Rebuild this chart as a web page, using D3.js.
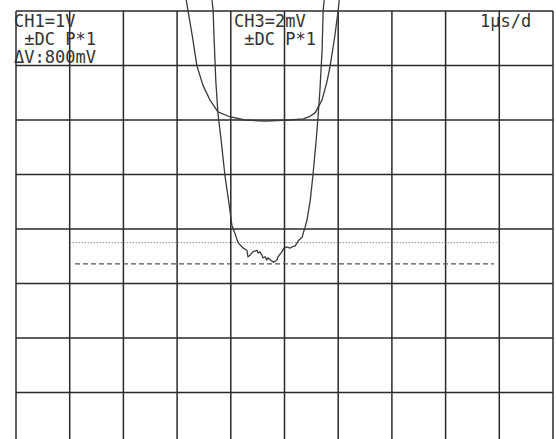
<!DOCTYPE html>
<html>
<head>
<meta charset="utf-8">
<script src="https://cdn.jsdelivr.net/npm/d3@7"></script>
<style>
  body { margin: 0; background: #fff; }
  svg { display: block; }
  .label { font-family: "DejaVu Sans Mono", monospace; font-size: 17px; fill: #333; }
</style>
</head>
<body>
<div id="scope"></div>
<script>
// grid divisions (time: 1 us/div, vertical in divisions)
const xDivs = [-5, -4, -3, -2, -1, 0, 1, 2, 3, 4, 5];
const yDivs = [-4, -3, -2, -1, 0, 1, 2, 3, 4];

// CH1 trace, [time in div, level in div]
const ch1Trace = [
  [-1.83, 4.20], [-1.80, 4.02], [-1.72, 3.56], [-1.63, 2.99], [-1.52, 2.64],
  [-1.39, 2.37], [-1.24, 2.15], [-1.02, 2.06], [-0.74, 2.00], [-0.36, 1.98],
  [0.10, 2.00], [0.35, 2.02], [0.46, 2.06], [0.57, 2.13], [0.70, 2.37],
  [0.79, 2.70], [0.85, 2.99], [0.94, 3.56], [1.00, 4.02], [1.02, 4.20]
];

// CH3 trace
const ch3Trace = [
  [-1.35, 4.20], [-1.33, 4.02], [-1.31, 3.47], [-1.28, 2.73], [-1.24, 2.13],
  [-1.18, 1.63], [-1.11, 0.99], [-1.03, 0.44], [-0.98, 0.07], [-0.92, -0.09],
  [-0.87, -0.24], [-0.83, -0.29], [-0.77, -0.35], [-0.70, -0.39], [-0.68, -0.51],
  [-0.64, -0.48], [-0.59, -0.42], [-0.51, -0.39], [-0.49, -0.44], [-0.46, -0.42],
  [-0.42, -0.48], [-0.40, -0.53], [-0.36, -0.51], [-0.33, -0.57], [-0.31, -0.53],
  [-0.23, -0.59], [-0.20, -0.61], [-0.14, -0.57], [-0.12, -0.51], [-0.05, -0.42],
  [-0.01, -0.35], [0.05, -0.33], [0.10, -0.35], [0.14, -0.33], [0.20, -0.31],
  [0.23, -0.26], [0.27, -0.20], [0.33, -0.15], [0.35, -0.07], [0.38, 0.02],
  [0.42, 0.17], [0.48, 0.53], [0.53, 0.99], [0.59, 1.63], [0.62, 2.00],
  [0.66, 2.55], [0.70, 3.28], [0.72, 4.02], [0.74, 4.20]
];

// cursor levels
const dottedCursor = { level: -0.25, from: -4.0, to: 4.0 };
const dashedCursor = { level: -0.64, from: -3.9, to: 3.9 };

// readout texts
const ch1Lines = ["CH1=1V", " ±DC P*1", "ΔV:800mV"];
const ch3Lines = ["CH3=2mV", " ±DC P*1"];
const timebase = "1µs/d";

const width = 556, height = 439;
const gLeft = 16, gRight = 553, gTop = 11, gBottom = 447;

const svg = d3.select("#scope").append("svg")
  .attr("width", width)
  .attr("height", height);

const x = d3.scaleLinear().domain([-5, 5]).range([gLeft, gRight]);
const y = d3.scaleLinear().domain([4, -4]).range([gTop, gBottom]);

// graticule
svg.append("g")
  .selectAll("line")
  .data(xDivs)
  .join("line")
  .attr("x1", d => x(d)).attr("x2", d => x(d))
  .attr("y1", gTop).attr("y2", gBottom)
  .attr("stroke", "#2a2a2a")
  .attr("stroke-width", 1.5);

svg.append("g")
  .selectAll("line")
  .data(yDivs)
  .join("line")
  .attr("x1", gLeft).attr("x2", gRight)
  .attr("y1", d => y(d)).attr("y2", d => y(d))
  .attr("stroke", "#2a2a2a")
  .attr("stroke-width", 1.5);

// cursors
[[dottedCursor, "1,2"], [dashedCursor, "5,3"]].forEach(([c, dash]) => {
  svg.append("line")
    .attr("x1", x(c.from)).attr("x2", x(c.to))
    .attr("y1", y(c.level)).attr("y2", y(c.level))
    .attr("stroke", "#555")
    .attr("stroke-width", dash === "1,2" ? 1 : 1.3)
    .attr("stroke-dasharray", dash);
});

// traces
const line = d3.line().x(d => x(d[0])).y(d => y(d[1]));

[ch1Trace, ch3Trace].forEach(trace => {
  svg.append("path")
    .datum(trace)
    .attr("d", line)
    .attr("fill", "none")
    .attr("stroke", "#3a3a3a")
    .attr("stroke-width", 1.3)
    .attr("stroke-linejoin", "round");
});

// readouts
function readout(lines, px) {
  svg.append("g")
    .selectAll("text")
    .data(lines)
    .join("text")
    .attr("class", "label")
    .attr("xml:space", "preserve")
    .attr("x", px)
    .attr("y", (d, i) => 27 + i * 18)
    .text(d => d);
}
readout(ch1Lines, 14);
readout(ch3Lines, 234);
readout([timebase], 480);
</script>
</body>
</html>
